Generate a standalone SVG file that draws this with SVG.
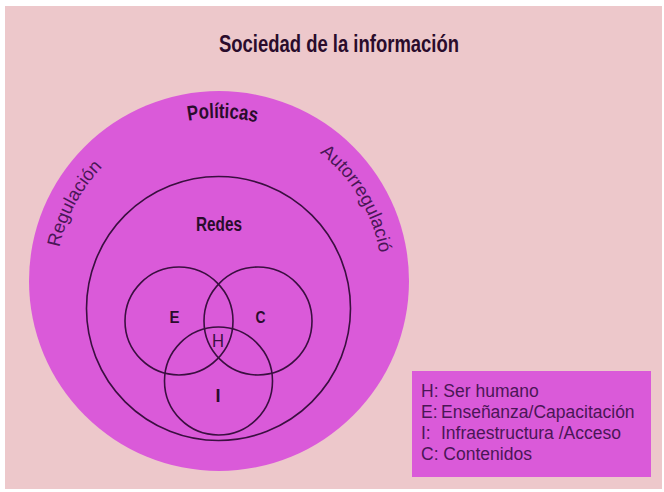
<svg xmlns="http://www.w3.org/2000/svg" xmlns:xlink="http://www.w3.org/1999/xlink" width="664" height="492" viewBox="0 0 664 492">
  <style>
    .bg { fill: #edc8cb; }
    .mag { fill: #da5ad9; }
    .ring { fill: none; stroke: #3a0f40; stroke-width: 1.6; }
    .bold { font-family: "Liberation Sans", Arial, sans-serif; font-weight: bold; fill: #2a0c2c; }
    .arc { font-family: "Liberation Sans", Arial, sans-serif; font-size: 18.5px; fill: #4a1656; }
    .leg { font-family: "Liberation Sans", Arial, sans-serif; font-size: 17.5px; fill: #4a1656; }
    .h { font-family: "Liberation Sans", Arial, sans-serif; font-size: 18px; fill: #3a0f40; }
  </style>
  <defs>
    <path id="arcPath" d="M56,281 A163,163 0 1,1 382,281 A163,163 0 1,1 56,281"/>
  </defs>
  <rect x="0" y="0" width="664" height="492" fill="#ffffff"/>
  <rect class="bg" x="5" y="6" width="657" height="483"/>

  <g id="title">
    <text class="bold" x="219" y="52" font-size="24" textLength="240" lengthAdjust="spacingAndGlyphs">Sociedad de la información</text>
  </g>

  <g id="politicas-ring">
    <circle class="mag" cx="219" cy="281" r="190"/>
    <text class="bold" font-size="21"><textPath xlink:href="#arcPath" href="#arcPath" startOffset="225" textLength="69" lengthAdjust="spacingAndGlyphs">Políticas</textPath></text>
    <text class="arc"><textPath xlink:href="#arcPath" href="#arcPath" startOffset="80" text-anchor="middle">Regulación</textPath></text>
    <text class="arc"><textPath xlink:href="#arcPath" href="#arcPath" startOffset="424" text-anchor="middle">Autorregulació</textPath></text>
  </g>

  <g id="redes">
    <circle class="ring" cx="218.5" cy="308.5" r="132"/>
    <text class="bold" x="196" y="231" font-size="20" textLength="46" lengthAdjust="spacingAndGlyphs">Redes</text>
  </g>

  <g id="connectors"></g>

  <g id="node-E">
    <circle class="ring" cx="179" cy="321" r="54"/>
    <text class="bold" x="169.5" y="323" font-size="17" textLength="10" lengthAdjust="spacingAndGlyphs">E</text>
  </g>
  <g id="node-C">
    <circle class="ring" cx="258" cy="321" r="54"/>
    <text class="bold" x="255.5" y="323" font-size="17" textLength="10" lengthAdjust="spacingAndGlyphs">C</text>
  </g>
  <g id="node-I">
    <circle class="ring" cx="218.5" cy="381" r="54"/>
    <text class="bold" x="218" y="402" font-size="18" text-anchor="middle">I</text>
  </g>
  <g id="node-H">
    <text class="h" x="212" y="347" textLength="12" lengthAdjust="spacingAndGlyphs">H</text>
  </g>

  <g id="legend">
    <rect class="mag" x="412" y="371" width="239" height="106"/>
    <text class="leg" x="421" y="397">H: Ser humano</text>
    <text class="leg" x="421" y="418">E:</text>
    <text class="leg" x="441" y="418">Enseñanza/Capacitación</text>
    <text class="leg" x="421" y="439">I:</text>
    <text class="leg" x="441" y="439">Infraestructura /Acceso</text>
    <text class="leg" x="421" y="460">C: Contenidos</text>
  </g>
</svg>
